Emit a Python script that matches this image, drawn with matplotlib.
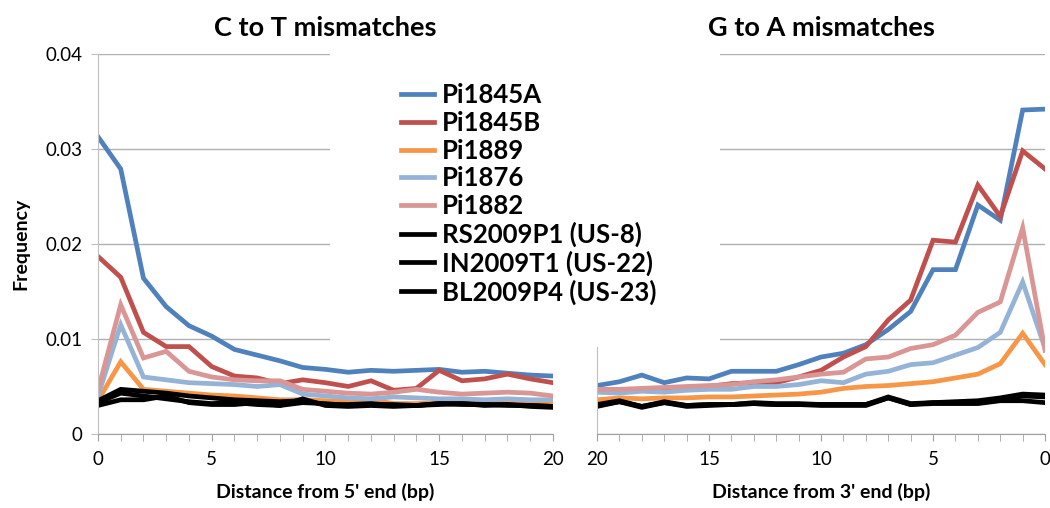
import numpy as np
import matplotlib as mpl
mpl.use('Agg')
from matplotlib import pyplot as plt
from matplotlib.patches import Rectangle

plt.rcParams['font.family'] = ['Lato', 'DejaVu Sans']

# data: frequency by distance (0..20 bp)
pos = list(range(21))
names = ['Pi1845A', 'Pi1845B', 'Pi1889', 'Pi1876', 'Pi1882',
         'RS2009P1 (US-8)', 'IN2009T1 (US-22)', 'BL2009P4 (US-23)']
colors = ['#4F81BD', '#C0504D', '#F79646', '#95B3D7', '#D99694', 'black', 'black', 'black']

# C to T, distance from 5' end
ct_1845A = [0.0313, 0.0279, 0.0164, 0.0134, 0.0114, 0.0103, 0.0089, 0.0083, 0.0077, 0.0070, 0.0068,
            0.0065, 0.0067, 0.0066, 0.0067, 0.0068, 0.0065, 0.0066, 0.0064, 0.0062, 0.0061]
ct_1845B = [0.0187, 0.0165, 0.0107, 0.0092, 0.0092, 0.0071, 0.0061, 0.0059, 0.0053, 0.0057, 0.0054,
            0.0050, 0.0056, 0.0046, 0.0048, 0.0067, 0.0056, 0.0058, 0.0063, 0.0058, 0.0054]
ct_1889 = [0.0035, 0.0076, 0.0047, 0.0045, 0.0043, 0.0041, 0.0040, 0.0038, 0.0036, 0.0036, 0.0035,
           0.0034, 0.0036, 0.0032, 0.0032, 0.0033, 0.0032, 0.0033, 0.0032, 0.0032, 0.0031]
ct_1876 = [0.0040, 0.0115, 0.0060, 0.0057, 0.0054, 0.0053, 0.0052, 0.0050, 0.0052, 0.0042, 0.0040,
           0.0038, 0.0037, 0.0039, 0.0038, 0.0037, 0.0037, 0.0036, 0.0037, 0.0036, 0.0036]
ct_1882 = [0.0046, 0.0136, 0.0080, 0.0087, 0.0066, 0.0060, 0.0057, 0.0056, 0.0056, 0.0047, 0.0045,
           0.0043, 0.0042, 0.0044, 0.0047, 0.0044, 0.0042, 0.0043, 0.0044, 0.0043, 0.0040]
ct_RS = [0.0035, 0.0047, 0.0045, 0.0043, 0.0040, 0.0038, 0.0036, 0.0035, 0.0034, 0.0035, 0.0031,
         0.0031, 0.0032, 0.0030, 0.0030, 0.0032, 0.0032, 0.0031, 0.0031, 0.0030, 0.0029]
ct_IN = [0.0030, 0.0036, 0.0036, 0.0040, 0.0033, 0.0031, 0.0031, 0.0033, 0.0030, 0.0037, 0.0030,
         0.0029, 0.0030, 0.0029, 0.0030, 0.0031, 0.0032, 0.0030, 0.0031, 0.0029, 0.0028]
ct_BL = [0.0033, 0.0043, 0.0040, 0.0037, 0.0034, 0.0032, 0.0033, 0.0031, 0.0030, 0.0033, 0.0032,
         0.0030, 0.0031, 0.0031, 0.0030, 0.0032, 0.0031, 0.0031, 0.0030, 0.0030, 0.0029]

# G to A, distance from 3' end
ga_1845A = [0.0342, 0.0341, 0.0225, 0.0241, 0.0173, 0.0173, 0.0129, 0.0110, 0.0094, 0.0085, 0.0081,
            0.0073, 0.0066, 0.0066, 0.0066, 0.0058, 0.0059, 0.0054, 0.0062, 0.0055, 0.0051]
ga_1845B = [0.0279, 0.0298, 0.0229, 0.0262, 0.0202, 0.0204, 0.0141, 0.0120, 0.0092, 0.0081, 0.0067,
            0.0060, 0.0054, 0.0054, 0.0053, 0.0050, 0.0049, 0.0048, 0.0047, 0.0047, 0.0046]
ga_1889 = [0.0073, 0.0106, 0.0074, 0.0063, 0.0059, 0.0055, 0.0053, 0.0051, 0.0050, 0.0048, 0.0044,
           0.0042, 0.0041, 0.0040, 0.0039, 0.0039, 0.0038, 0.0038, 0.0037, 0.0038, 0.0036]
ga_1876 = [0.0090, 0.0160, 0.0107, 0.0091, 0.0083, 0.0075, 0.0073, 0.0066, 0.0063, 0.0054, 0.0056,
           0.0052, 0.0050, 0.0050, 0.0047, 0.0047, 0.0046, 0.0044, 0.0045, 0.0043, 0.0044]
ga_1882 = [0.0088, 0.0217, 0.0139, 0.0128, 0.0104, 0.0094, 0.0090, 0.0081, 0.0079, 0.0065, 0.0063,
           0.0060, 0.0057, 0.0055, 0.0052, 0.0051, 0.0050, 0.0049, 0.0048, 0.0047, 0.0047]
ga_RS = [0.0041, 0.0042, 0.0038, 0.0035, 0.0034, 0.0033, 0.0032, 0.0039, 0.0031, 0.0031, 0.0031,
         0.0032, 0.0032, 0.0033, 0.0031, 0.0031, 0.0030, 0.0034, 0.0029, 0.0035, 0.0031]
ga_IN = [0.0033, 0.0035, 0.0035, 0.0032, 0.0032, 0.0032, 0.0031, 0.0038, 0.0030, 0.0030, 0.0030,
         0.0031, 0.0031, 0.0032, 0.0031, 0.0030, 0.0029, 0.0033, 0.0028, 0.0034, 0.0029]
ga_BL = [0.0039, 0.0040, 0.0036, 0.0034, 0.0033, 0.0033, 0.0031, 0.0038, 0.0031, 0.0031, 0.0031,
         0.0031, 0.0031, 0.0032, 0.0031, 0.0031, 0.0030, 0.0033, 0.0029, 0.0034, 0.0030]

ct = [ct_1845A, ct_1845B, ct_1889, ct_1876, ct_1882, ct_RS, ct_IN, ct_BL]
ga = [ga_1845A, ga_1845B, ga_1889, ga_1876, ga_1882, ga_RS, ga_IN, ga_BL]

fig = plt.figure(figsize=(10.5, 5.08), dpi=100)
ax1 = fig.add_axes([0.0933, 0.1457, 0.4333, 0.748])
ax2 = fig.add_axes([0.5686, 0.1457, 0.4267, 0.748])

for ax, data in ((ax1, ct), (ax2, ga)):
    for name, c, y in zip(names, colors, data):
        ax.plot(pos, y, color=c, lw=3.4, label=name, solid_joinstyle='miter')
    ax.set_ylim(0, 0.04)
    ax.set_yticks([0, 0.01, 0.02, 0.03, 0.04])
    ax.yaxis.grid(True, color='#B0B0B0', lw=1)
    ax.set_axisbelow(True)
    ax.set_xticks(range(0, 21, 5))
    ax.set_xticks(range(21), minor=True)
    ax.tick_params(axis='x', which='both', length=5, color='#A0A0A0', labelsize=13.5, pad=7)
    for s in ('top', 'right'):
        ax.spines[s].set_visible(False)
    ax.spines['left'].set_color('#C0C0C0')
    ax.spines['bottom'].set_color('#A0A0A0')

ax1.set_xlim(0, 20)
ax2.set_xlim(20, 0)
ax1.set_yticklabels(['0', '0.01', '0.02', '0.03', '0.04'])
ax1.tick_params(axis='y', length=5, color='#C0C0C0', labelsize=13.5, pad=6)
ax2.tick_params(axis='y', length=0, labelleft=False)

ax1.set_title('C to T mismatches', fontsize=19.5, fontweight='bold', pad=13)
ax2.set_title('G to A mismatches', fontsize=19.5, fontweight='bold', pad=13)
ax1.set_xlabel("Distance from 5' end (bp)", fontsize=14, fontweight='bold', labelpad=11)
ax2.set_xlabel("Distance from 3' end (bp)", fontsize=14, fontweight='bold', labelpad=11)
ax1.set_ylabel('Frequency', fontsize=14, fontweight='bold', labelpad=12)

# white block behind the legend
fig.patches.append(Rectangle((0.314, 0.317), 0.372, 0.585, transform=fig.transFigure,
                             facecolor='white', edgecolor='none', zorder=5))

handles, labels = ax1.get_legend_handles_labels()
leg = fig.legend(handles, labels, loc='upper left', bbox_to_anchor=(0.372, 0.856),
                 frameon=False, fontsize=18.5, handlelength=1.3, handletextpad=0.3,
                 labelspacing=0.14, borderaxespad=0)
for t in leg.get_texts():
    t.set_fontweight('bold')
leg.set_zorder(6)

plt.savefig('out.png', dpi=100)
